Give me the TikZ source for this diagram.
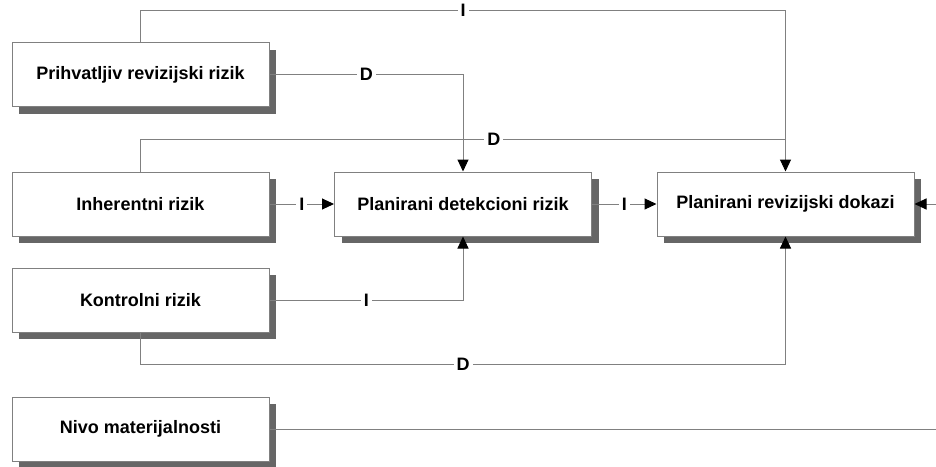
\documentclass[tikz,border=0pt]{standalone}
\usepackage{fontspec}
\setmainfont{Liberation Sans}
\usetikzlibrary{shadows,arrows.meta}
\definecolor{linegray}{HTML}{808080}
\definecolor{shadowgray}{HTML}{666666}
\begin{document}
\begin{tikzpicture}[x=1pt,y=-1pt,
  box/.style={draw=linegray, line width=1pt, fill=white, minimum width=257pt, minimum height=64pt, inner sep=0pt,
    font=\fontsize{18}{20}\selectfont\bfseries,
    general shadow={fill=shadowgray, shadow xshift=7pt, shadow yshift=-7pt}},
  conn/.style={draw=linegray, line width=1pt},
  arr/.style={conn, -{Triangle[length=12pt,width=11pt,color=black]}},
  lbl/.style={fill=white, inner sep=3pt, text=black, font=\fontsize{18}{20}\selectfont\bfseries}]
\useasboundingbox (0,0) rectangle (936,466);

\node[box] (prih) at (140.5,74.5) {Prihvatljiv revizijski rizik};
\node[box] (inh)  at (140.5,204) {Inherentni rizik};
\node[box] (det)  at (463,204) {Planirani detekcioni rizik};
\node[box] (rev)  at (785.5,204) {Planirani revizijski dokazi};
\node[box] (kon)  at (140.5,300) {Kontrolni rizik};
\node[box] (niv)  at (140.5,429) {Nivo materijalnosti};

\coordinate (tI) at (140.5,10);
\coordinate (tD) at (140.5,139);
\coordinate (bD) at (140.5,364);
\coordinate (rin) at (936,204);
\coordinate (nout) at (936,429);

\draw[arr] (prih.north) -- (tI) -- node[lbl]{I} (tI -| rev.north) -- (rev.north);
\draw[conn] (inh.north) -- (tD) -- node[lbl,pos=0.548]{D} (tD -| rev.north);
\draw[arr] (prih.east) -- node[lbl]{D} (prih.east -| det.north) -- (det.north);
\draw[arr] (inh.east) -- node[lbl]{I} (det.west);
\draw[arr] (det.east) -- node[lbl]{I} (rev.west);
\draw[arr] (rin) -- (rev.east);
\draw[arr] (kon.east) -- node[lbl]{I} (kon.east -| det.south) -- (det.south);
\draw[arr] (kon.south) -- (bD) -- node[lbl]{D} (bD -| rev.south) -- (rev.south);
\draw[conn] (niv.east) -- (nout);
\end{tikzpicture}
\end{document}
